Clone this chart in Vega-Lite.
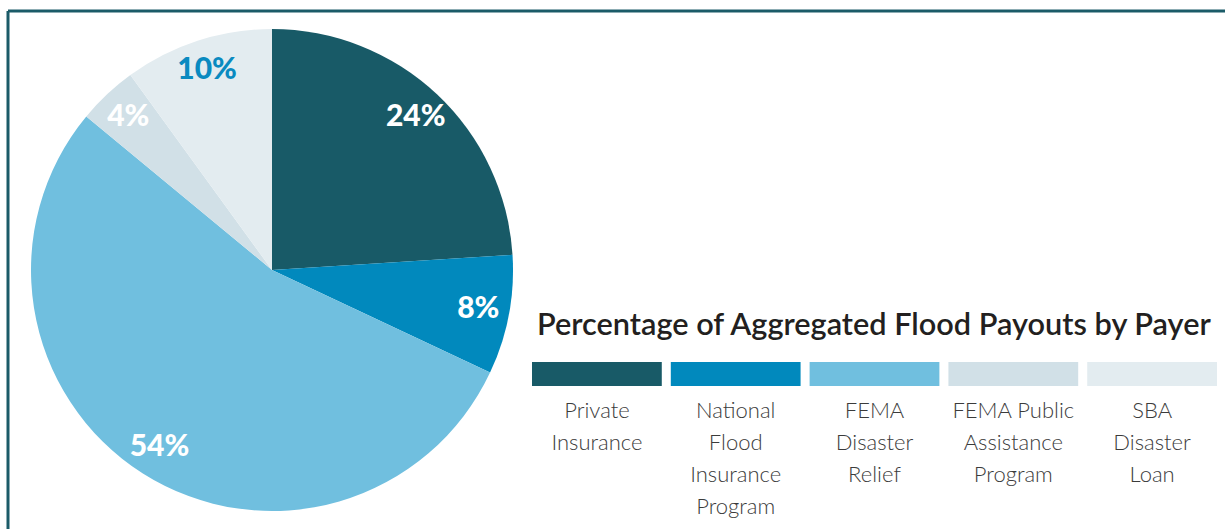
{
  "$schema": "https://vega.github.io/schema/vega-lite/v6.json",
  "padding": {"left": 6, "top": 9, "right": 0, "bottom": 0},
  "background": "white",
  "datasets": {
    "payers": [
      {"payer": "Private Insurance", "share": 0.24, "idx": 1},
      {"payer": "National Flood Insurance Program", "share": 0.08, "idx": 2},
      {"payer": "FEMA Disaster Relief", "share": 0.54, "idx": 3},
      {"payer": "FEMA Public Assistance Program", "share": 0.04, "idx": 4},
      {"payer": "SBA Disaster Loan", "share": 0.10, "idx": 5}
    ]
  },
  "config": {"view": {"stroke": null}},
  "spacing": 0,
  "bounds": "flush",
  "hconcat": [
    {
      "width": 528,
      "height": 518,
      "view": {"stroke": "#1b5b68", "strokeWidth": 3, "strokeDash": [528, 1046, 518, 0]},
      "data": {"name": "payers"},
      "encoding": {
        "theta": {"field": "share", "type": "quantitative", "stack": true},
        "order": {"field": "idx", "type": "quantitative"}
      },
      "layer": [
        {
          "mark": {"type": "arc", "outerRadius": 241},
          "encoding": {
            "color": {
              "field": "payer",
              "type": "nominal",
              "scale": {
                "domain": ["Private Insurance", "National Flood Insurance Program", "FEMA Disaster Relief", "FEMA Public Assistance Program", "SBA Disaster Loan"],
                "range": ["#185a67", "#0189bd", "#70bfdf", "#d1e0e7", "#e3ecf0"]
              },
              "legend": null
            }
          }
        },
        {
          "mark": {"type": "text", "radius": 210, "font": "Lato", "fontWeight": 900, "fontSize": 30},
          "encoding": {
            "text": {"field": "share", "type": "quantitative", "format": ".0%"},
            "color": {
              "condition": {"test": "datum.payer === 'SBA Disaster Loan'", "value": "#0a8ac0"},
              "value": "white"
            }
          }
        }
      ]
    },
    {
      "spacing": 0,
      "vconcat": [
        {
          "width": 694,
          "height": 297,
          "view": {"stroke": "#1b5b68", "strokeWidth": 3, "strokeDash": [694, 3000]},
          "data": {"values": []},
          "mark": "rect"
        },
        {
          "width": 685,
          "height": 24,
          "data": {"name": "payers"},
          "title": {
            "text": "Percentage of Aggregated Flood Payouts by Payer",
            "anchor": "start",
            "font": "Lato",
            "fontSize": 30.7,
            "fontWeight": 600,
            "color": "#231f20",
            "offset": 20,
            "dx": 5
          },
          "mark": {"type": "rect", "xOffset": -4},
          "encoding": {
            "x": {
              "field": "payer",
              "type": "nominal",
              "sort": {"field": "idx"},
              "scale": {"paddingInner": 0.065, "paddingOuter": 0},
              "axis": {
                "title": null,
                "orient": "bottom",
                "domain": false,
                "ticks": false,
                "labelAngle": 0,
                "labelFont": "Lato",
                "labelFontWeight": 300,
                "labelFontSize": 22,
                "labelColor": "#3b3b3b",
                "labelLineHeight": 32,
                "labelPadding": 14,
                "labelOffset": -4,
                "labelOverlap": false,
                "labelLimit": 0,
                "labelExpr": "datum.value == 'FEMA Public Assistance Program' ? ['FEMA Public', 'Assistance', 'Program'] : split(datum.value, ' ')"
              }
            },
            "color": {
              "field": "payer",
              "type": "nominal",
              "scale": {
                "domain": ["Private Insurance", "National Flood Insurance Program", "FEMA Disaster Relief", "FEMA Public Assistance Program", "SBA Disaster Loan"],
                "range": ["#185a67", "#0189bd", "#70bfdf", "#d1e0e7", "#e3ecf0"]
              },
              "legend": null
            }
          }
        }
      ]
    }
  ]
}
